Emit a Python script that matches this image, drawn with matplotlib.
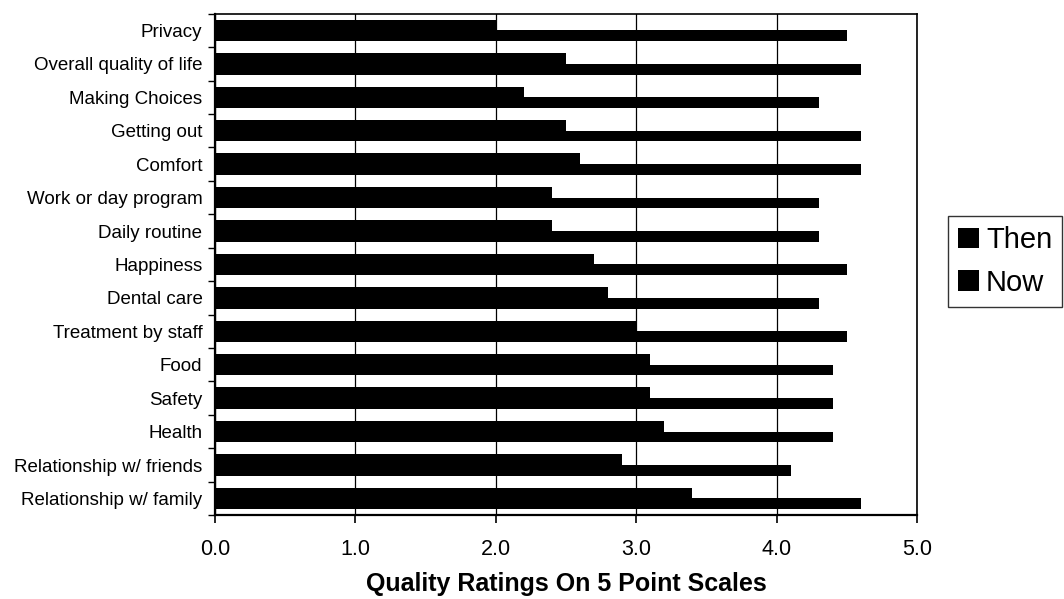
import numpy as np
import matplotlib
matplotlib.use("Agg")
import matplotlib.pyplot as plt

# categories listed top to bottom as in the chart
categories = ['Privacy', 'Overall quality of life', 'Making Choices', 'Getting out',
              'Comfort', 'Work or day program', 'Daily routine', 'Happiness',
              'Dental care', 'Treatment by staff', 'Food', 'Safety', 'Health',
              'Relationship w/ friends', 'Relationship w/ family']
then_vals = [2.0, 2.5, 2.2, 2.5, 2.6, 2.4, 2.4, 2.7, 2.8, 3.0, 3.1, 3.1, 3.2, 2.9, 3.4]
now_vals = [4.5, 4.6, 4.3, 4.6, 4.6, 4.3, 4.3, 4.5, 4.3, 4.5, 4.4, 4.4, 4.4, 4.1, 4.6]
series_names = ['Then', 'Now']
x_ticks = [0.0, 1.0, 2.0, 3.0, 4.0, 5.0]

plt.rcParams['font.family'] = ['Liberation Sans', 'DejaVu Sans']

fig = plt.figure(figsize=(10.64, 5.99), dpi=100)
ax = fig.add_axes([0.202, 0.140, 0.660, 0.837])

n = len(categories)
# first category at the top
pos = np.arange(n)[::-1]
bar_h = 0.32

ax.barh(pos + bar_h / 2, then_vals, height=bar_h, color='black', label=series_names[0], zorder=3)
ax.barh(pos - bar_h / 2, now_vals, height=bar_h, color='black', label=series_names[1], zorder=3)

ax.set_xlim(0, 5)
ax.set_ylim(-0.5, n - 0.5)

# x axis
ax.set_xticks(x_ticks)
ax.set_xticklabels(['%.1f' % v for v in x_ticks], fontsize=15.5)
ax.tick_params(axis='x', direction='out', length=6, width=1.2, pad=11, colors='black')
ax.set_xlabel('Quality Ratings On 5 Point Scales', fontsize=18, fontweight='bold', labelpad=9)

# y axis: labels at centres, tick marks at category borders
ax.set_yticks(pos)
ax.set_yticklabels(categories, fontsize=13.5)
ax.tick_params(axis='y', which='major', length=0, pad=9)
ax.set_yticks(np.arange(n + 1) - 0.5, minor=True)
ax.tick_params(axis='y', which='minor', direction='out', length=5, width=1.0)

# vertical grid lines
ax.grid(axis='x', color='black', linewidth=0.9, zorder=0)
ax.set_axisbelow(True)

for side in ['left', 'bottom']:
    ax.spines[side].set_linewidth(1.6)
for side in ['top', 'right']:
    ax.spines[side].set_linewidth(1.2)

leg = fig.legend(loc='upper left', bbox_to_anchor=(948 / 1064, 1 - 216 / 599),
                 fontsize=21, frameon=True, fancybox=False, borderpad=0.35,
                 handlelength=0.7, handleheight=0.7, handletextpad=0.25,
                 labelspacing=0.5, borderaxespad=0)
leg.get_frame().set_edgecolor('black')
leg.get_frame().set_linewidth(1.0)

fig.savefig('out.png', dpi=100)
